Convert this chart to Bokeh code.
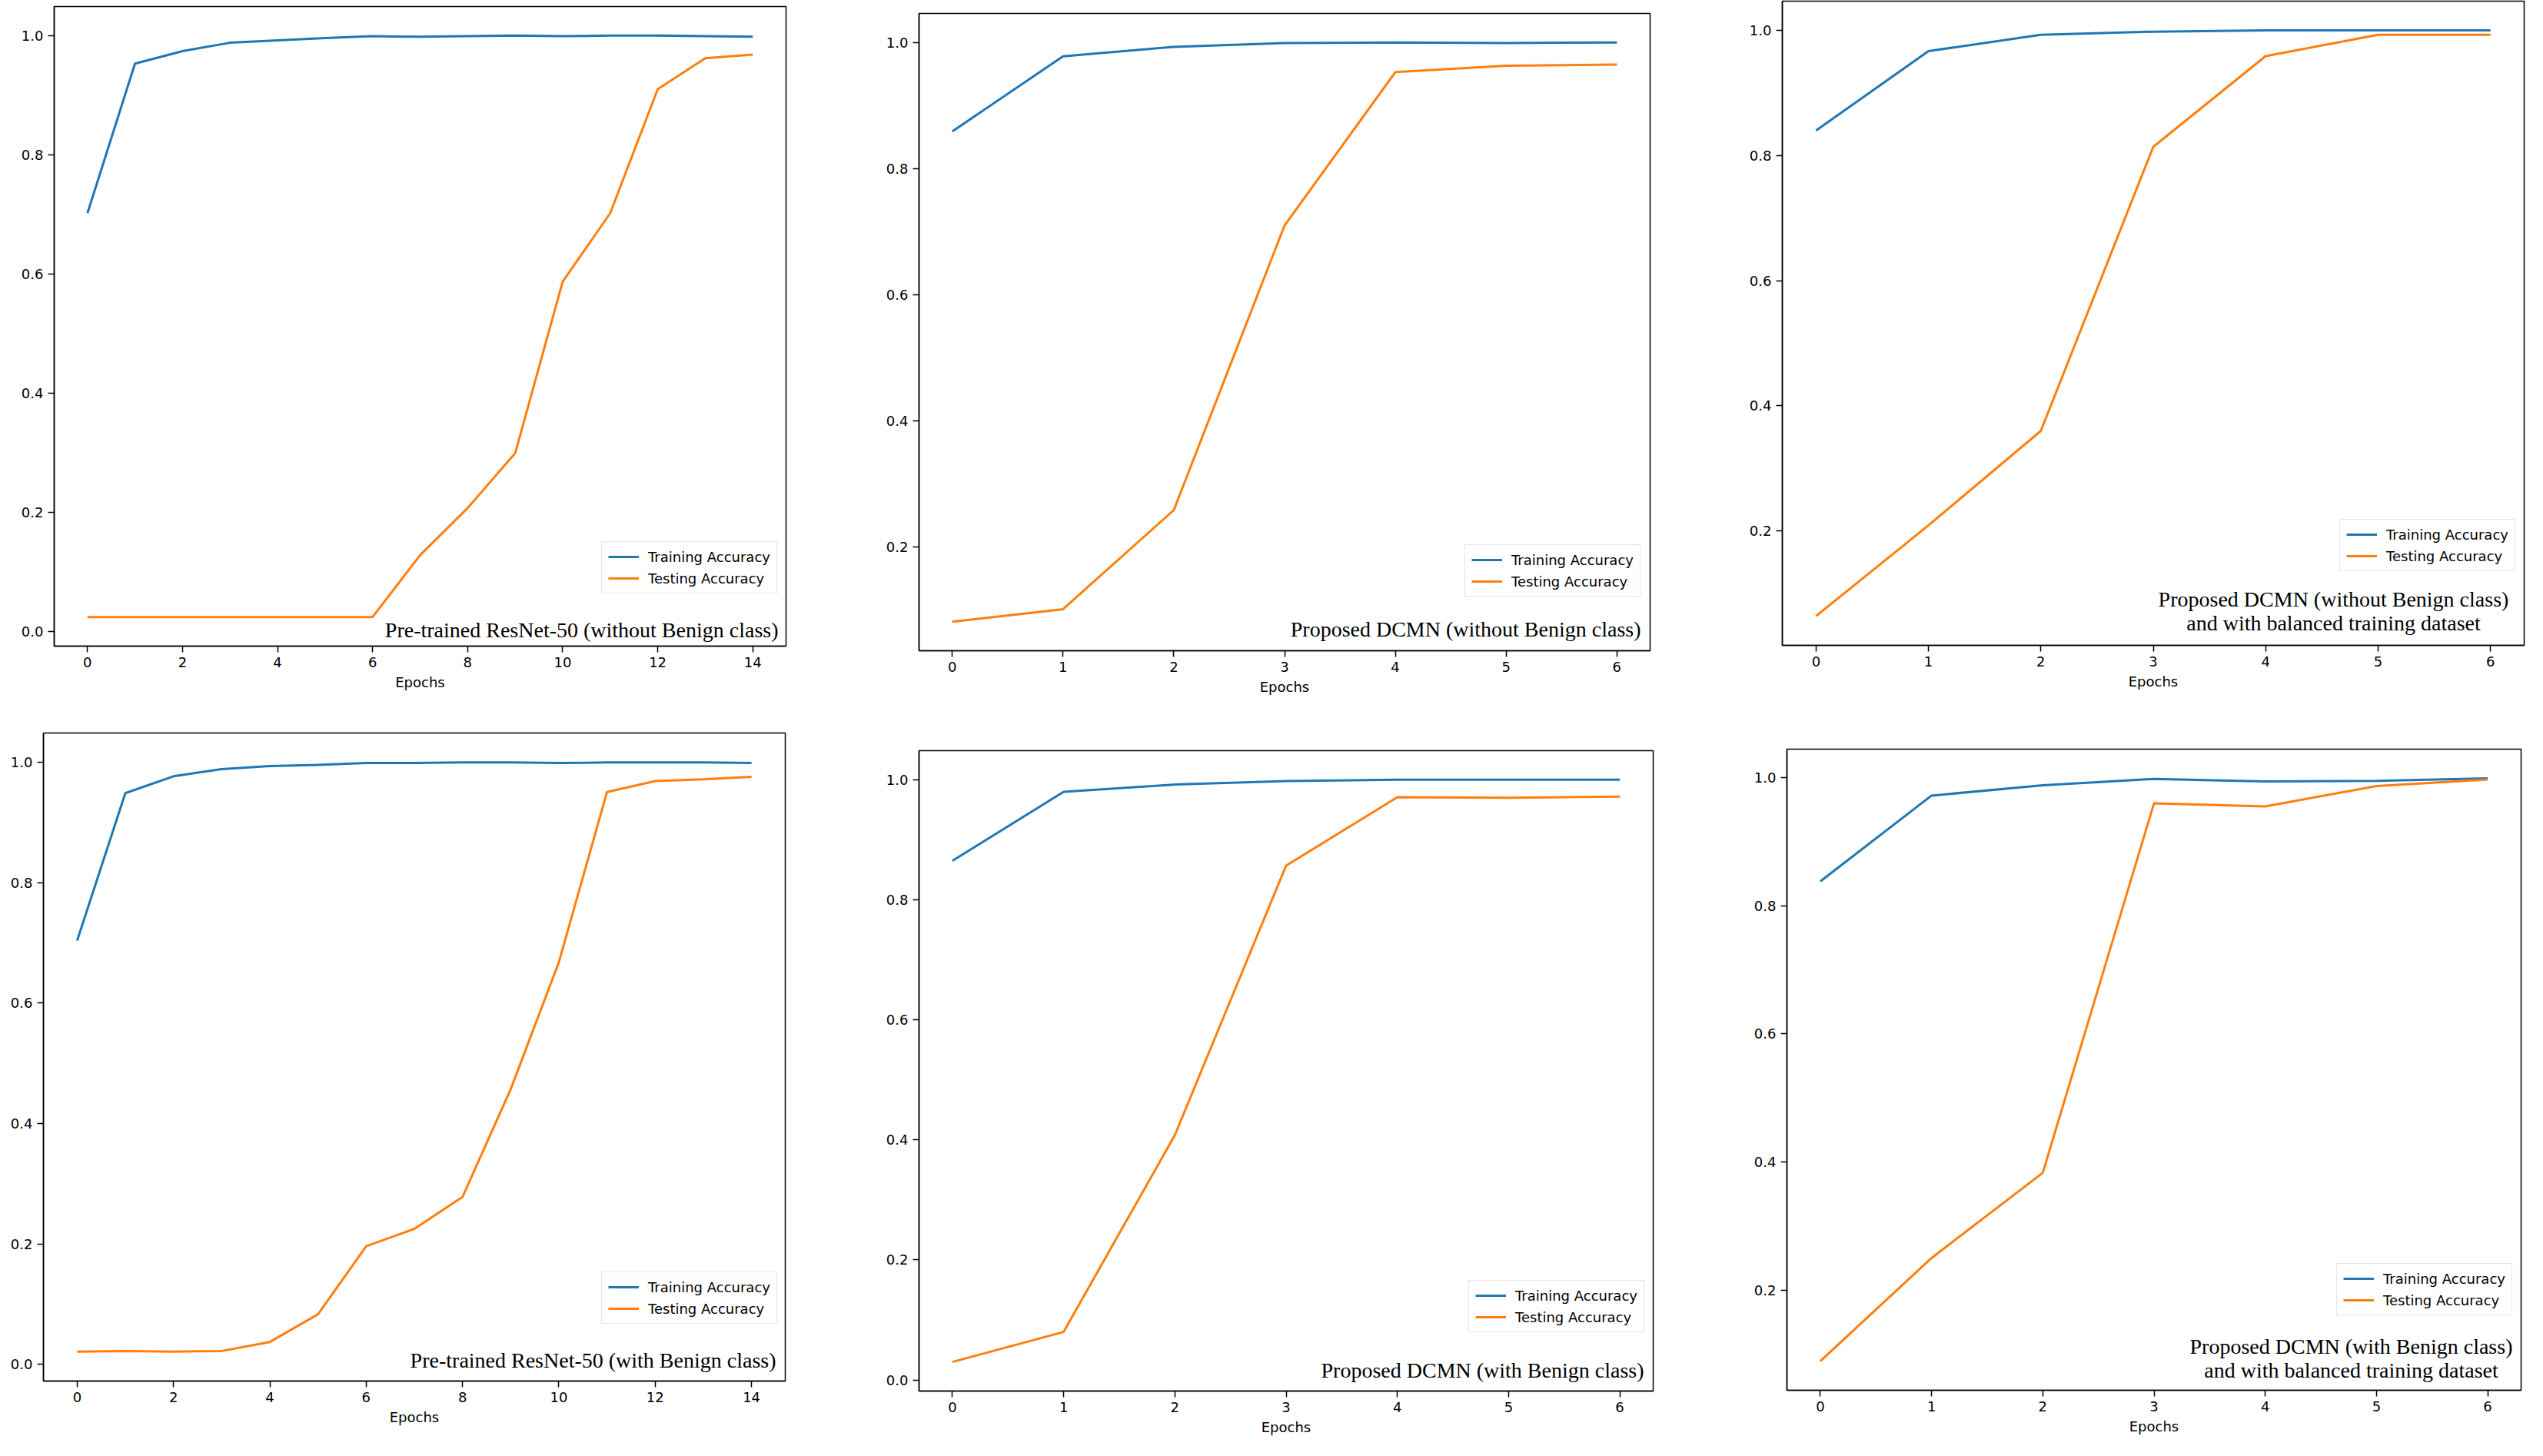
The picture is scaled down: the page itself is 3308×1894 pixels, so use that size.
from bokeh.plotting import figure
from bokeh.layouts import column, row
from bokeh.models import Range1d, FixedTicker, PrintfTickFormatter, Label
from bokeh.embed import file_html
from bokeh.resources import INLINE

# ---------------- data ----------------
epochs_15 = list(range(15))
epochs_7 = list(range(7))

resnet_wo_train = [0.702, 0.953, 0.974, 0.988, 0.992, 0.996, 0.999, 0.998, 0.999, 1.0, 0.999, 1.0, 1.0, 0.999, 0.998]
resnet_wo_test = [0.024, 0.024, 0.024, 0.024, 0.024, 0.024, 0.024, 0.128, 0.207, 0.299, 0.587, 0.702, 0.910, 0.962, 0.968]

dcmn_wo_train = [0.859, 0.978, 0.993, 0.999, 1.0, 0.999, 1.0]
dcmn_wo_test = [0.082, 0.102, 0.259, 0.710, 0.953, 0.963, 0.965]

dcmn_wo_bal_train = [0.840, 0.967, 0.993, 0.998, 1.0, 1.0, 1.0]
dcmn_wo_bal_test = [0.064, 0.209, 0.360, 0.814, 0.959, 0.993, 0.993]

resnet_w_train = [0.704, 0.949, 0.977, 0.989, 0.994, 0.996, 0.999, 0.999, 1.0, 1.0, 0.999, 1.0, 1.0, 1.0, 0.999]
resnet_w_test = [0.021, 0.022, 0.021, 0.022, 0.037, 0.083, 0.196, 0.225, 0.278, 0.457, 0.668, 0.951, 0.969, 0.972, 0.976]

dcmn_w_train = [0.865, 0.980, 0.992, 0.998, 1.0, 1.0, 1.0]
dcmn_w_test = [0.030, 0.080, 0.408, 0.857, 0.971, 0.970, 0.972]

dcmn_w_bal_train = [0.838, 0.972, 0.988, 0.998, 0.994, 0.995, 0.999]
dcmn_w_bal_test = [0.089, 0.250, 0.383, 0.960, 0.955, 0.987, 0.997]

titles = [
    ["Pre-trained ResNet-50 (without Benign class)"],
    ["Proposed DCMN (without Benign class)"],
    ["Proposed DCMN (without Benign class)", "and with balanced training dataset"],
    ["Pre-trained ResNet-50 (with Benign class)"],
    ["Proposed DCMN (with Benign class)"],
    ["Proposed DCMN (with Benign class)", "and with balanced training dataset"],
]

xticks_15 = [0, 2, 4, 6, 8, 10, 12, 14]
xticks_7 = [0, 1, 2, 3, 4, 5, 6]
yticks = [0.0, 0.2, 0.4, 0.6, 0.8, 1.0]

BLUE = "#1f77b4"
ORANGE = "#ff7f0e"
SANS = "DejaVu Sans"
SERIF = "Liberation Serif"


def padded(lo, hi, frac=0.05):
    span = hi - lo
    return lo - frac * span, hi + frac * span


def make_panel(x, train, test, lines, xticks, ml, mr, mt, mb, fw, fh,
               leg_right, leg_bottom, text_pos):
    x0, x1 = padded(min(x), max(x))
    y0, y1 = padded(min(train + test), max(train + test))
    p = figure(title=None, frame_width=fw, frame_height=fh,
               min_border_left=ml, min_border_right=mr,
               min_border_top=mt, min_border_bottom=mb,
               x_range=Range1d(x0, x1), y_range=Range1d(y0, y1),
               output_backend="svg", toolbar_location=None,
               background_fill_color="white", border_fill_color="white")
    p.grid.visible = False
    p.outline_line_color = "black"
    p.outline_line_width = 1.5
    p.outline_line_alpha = 1.0

    p.line(x, train, line_color=BLUE, line_width=3, legend_label="Training Accuracy")
    p.line(x, test, line_color=ORANGE, line_width=3, legend_label="Testing Accuracy")

    for ax in (p.xaxis[0], p.yaxis[0]):
        ax.axis_line_color = "black"
        ax.axis_line_width = 1.5
        ax.major_tick_line_color = "black"
        ax.major_tick_line_width = 1.5
        ax.major_tick_out = 8
        ax.major_tick_in = 0
        ax.minor_tick_line_color = None
        ax.major_label_text_font = SANS
        ax.major_label_text_font_size = "18px"
        ax.major_label_text_color = "black"
        ax.major_label_standoff = 6
    p.xaxis[0].ticker = FixedTicker(ticks=xticks)
    p.yaxis[0].ticker = FixedTicker(ticks=yticks)
    p.yaxis[0].formatter = PrintfTickFormatter(format="%.1f")
    p.xaxis[0].axis_label = "Epochs"
    p.xaxis[0].axis_label_text_font = SANS
    p.xaxis[0].axis_label_text_font_size = "18px"
    p.xaxis[0].axis_label_text_font_style = "normal"
    p.xaxis[0].axis_label_text_color = "black"
    p.xaxis[0].axis_label_standoff = 6

    leg = p.legend[0]
    leg.label_text_font = SANS
    leg.label_text_font_size = "18px"
    leg.label_text_color = "black"
    leg.glyph_width = 40
    leg.glyph_height = 22
    leg.label_height = 22
    leg.label_standoff = 12
    leg.spacing = 6
    leg.padding = 8
    leg.margin = 0
    leg.border_line_color = "#cccccc"
    leg.border_line_width = 1.5
    leg.background_fill_alpha = 0.8
    leg_w = 2 * 8 + 40 + 12 + 162
    leg.location = (fw - leg_right - leg_w, leg_bottom)

    if len(lines) == 1:
        right_gap, base = text_pos
        p.add_layout(Label(x=fw - right_gap, y=base, x_units="screen", y_units="screen",
                           text=lines[0], text_font=SERIF, text_font_size="28px",
                           text_align="right", text_baseline="alphabetic",
                           text_color="black"))
    else:
        cx, b1, b2 = text_pos
        for t, b in zip(lines, (b1, b2)):
            p.add_layout(Label(x=cx, y=b, x_units="screen", y_units="screen",
                               text=t, text_font=SERIF, text_font_size="28px",
                               text_align="center", text_baseline="alphabetic",
                               text_color="black"))
    return p


p1 = make_panel(epochs_15, resnet_wo_train, resnet_wo_test, titles[0], xticks_15,
                70, 60, 8, 92, 952, 832, 10, 68, (10, 21))
p2 = make_panel(epochs_7, dcmn_wo_train, dcmn_wo_test, titles[1], xticks_7,
                113, 60, 17, 64, 951, 829, 11, 70, (12, 28))
p3 = make_panel(epochs_7, dcmn_wo_bal_train, dcmn_wo_bal_test, titles[2], xticks_7,
                112, 5, 1, 64, 965, 838, 10, 96, (717, 60, 29))
p4 = make_panel(epochs_15, resnet_w_train, resnet_w_test, titles[3], xticks_15,
                56, 60, 21, 64, 965, 843, 9, 74, (12, 27))
p5 = make_panel(epochs_7, dcmn_w_train, dcmn_w_test, titles[4], xticks_7,
                114, 60, 44, 64, 955, 833, 10, 76, (12, 27))
p6 = make_panel(epochs_7, dcmn_w_bal_train, dcmn_w_bal_test, titles[5], xticks_7,
                114, 5, 42, 64, 955, 834, 10, 97, (734, 57, 26))

layout = column(row(column(p1), column(p2), column(p3)),
                row(column(p4), column(p5), column(p6)))

open("out.html", "w").write(file_html(layout, INLINE))
